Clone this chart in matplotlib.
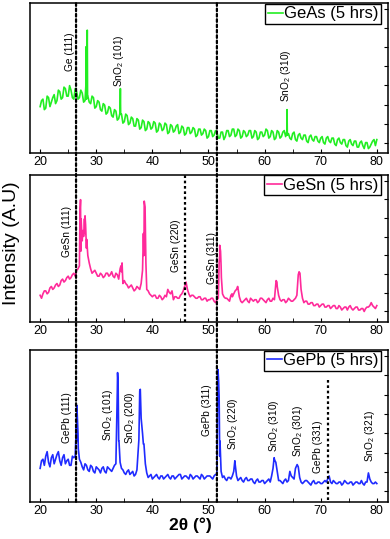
import numpy as np
import matplotlib
matplotlib.use("Agg")
import matplotlib.pyplot as plt
from matplotlib.patches import ConnectionPatch

plt.rcParams["font.family"] = ["Liberation Sans", "DejaVu Sans"]
plt.rcParams["mathtext.fontset"] = "custom"
plt.rcParams["mathtext.rm"] = "Liberation Sans"
plt.rcParams["mathtext.it"] = "Liberation Sans"

# 2theta grids of the background (deg): whole/half degrees and the quarter points between
two_theta = np.arange(20, 80.01, 0.5)
two_theta_mid = np.arange(20.25, 79.8, 0.5)

geas_base = [31, 36, 30, 37, 34, 39, 35, 41, 37, 43, 38, 42, 36, 41, 37, 40, 35, 38, 33, 37,
             31, 34, 28, 32, 27, 30, 24, 28, 23, 26, 21, 25, 20, 23, 18, 22, 17, 21, 16, 20,
             17, 20, 15, 19, 16, 19, 14, 18, 15, 19, 14, 17, 13, 17, 14, 16, 12, 16, 13, 15,
             11, 15, 12, 14, 10, 14, 11, 15, 12, 16, 12, 15, 11, 14, 12, 15, 11, 14, 10, 14,
             12, 15, 11, 14, 10, 14, 11, 15, 12, 10, 13, 9, 12, 10, 12, 8, 11, 9, 11, 8,
             10, 7, 10, 8, 10, 6, 9, 7, 9, 5, 8, 6, 8, 4, 7, 5, 7, 3, 6, 9, 9]
geas_mid = [35, 29, 38, 31, 37, 33, 42, 36, 44, 38,
            45, 37, 43, 36, 42, 34, 36, 34, 38, 30,
            35, 29, 33, 26, 31, 25, 29, 22, 27, 20,
            26, 19, 24, 18, 23, 16, 22, 15, 21, 16,
            21, 14, 20, 15, 20, 13, 19, 14, 18, 13,
            18, 12, 17, 13, 17, 11, 16, 12, 16, 10,
            15, 11, 15, 10, 14, 9, 15, 11, 16, 11,
            16, 10, 15, 11, 15, 10, 15, 9, 14, 11,
            16, 10, 15, 9, 15, 10, 14, 11, 13, 9,
            14, 8, 13, 9, 12, 7, 12, 8, 11, 7,
            11, 6, 11, 7, 10, 5, 10, 6, 9, 4,
            9, 5, 8, 4, 8, 3, 7, 4, 8, 5]
geas_peak_x = [28.15, 28.2, 28.25, 28.35, 28.4, 28.45, 34.25, 34.3, 34.35, 63.95, 64.0, 64.05]
geas_peak_y = [45, 71, 40, 60, 82, 38, 30, 43, 26, 14, 29, 12]

gesn_base = [18, 19, 21, 20, 24, 23, 26, 25, 29, 28, 31, 30, 33, 35, 38, 55, 60, 45, 36, 34,
             33, 31, 32, 31, 33, 32, 31, 33, 29, 34, 28, 25, 24, 23, 22, 23, 26, 45, 22, 19,
             17, 18, 16, 17, 16, 17, 20, 21, 17, 16, 18, 21, 26, 19, 18, 17, 16, 17, 15, 16,
             15, 16, 14, 15, 45, 19, 16, 15, 18, 19, 22, 17, 13, 15, 14, 16, 14, 15, 14, 16,
             14, 15, 14, 16, 26, 18, 14, 15, 14, 15, 14, 16, 32, 22, 13, 14, 12, 13, 11, 12,
             11, 12, 10, 11, 10, 11, 9, 10, 9, 10, 10, 9, 9, 10, 8, 9, 9, 10, 13, 10, 11]
gesn_mid = [16, 21, 19, 23, 22, 25, 24, 28, 27, 30,
            29, 32, 31, 36, 48, 58, 50, 40, 33, 35,
            31, 33, 30, 33, 31, 34, 30, 32, 36, 26,
            26, 23, 25, 21, 24, 22, 35, 65, 21, 18,
            18, 16, 18, 15, 18, 22, 19, 15, 17, 16,
            19, 24, 22, 17, 18, 16, 17, 15, 16, 14,
            15, 16, 13, 16, 38, 17, 16, 14, 17, 21,
            23, 14, 14, 16, 13, 15, 15, 13, 16, 15,
            13, 16, 14, 15, 24, 15, 15, 13, 16, 14,
            15, 18, 33, 16, 14, 12, 13, 11, 12, 10,
            12, 10, 11, 9, 11, 9, 11, 8, 10, 8,
            11, 8, 10, 8, 9, 7, 10, 11, 11, 9]
gesn_peak_x = [27.1, 27.2, 27.3, 27.6, 27.9, 28.0, 28.1, 28.3, 34.4, 34.6, 38.4, 38.55, 38.7,
               38.85, 46.0, 51.9, 52.0, 52.15, 52.3, 54.2, 55.2, 62.05, 62.2, 66.15, 66.3]
gesn_peak_y = [75, 83, 70, 62, 70, 72, 66, 56, 38, 40, 60, 82, 78, 40, 27, 40, 52, 48, 30,
               19, 24, 28, 27, 34, 33]

gepb_base = [22, 28, 30, 26, 29, 25, 31, 27, 29, 25, 28, 24, 29, 40, 28, 23, 25, 21, 24, 20,
             23, 21, 22, 20, 23, 21, 22, 25, 40, 22, 19, 20, 18, 20, 18, 35, 55, 38, 19, 17,
             15, 17, 16, 17, 15, 17, 16, 17, 15, 17, 18, 16, 17, 15, 17, 16, 17, 15, 17, 16,
             17, 16, 17, 18, 30, 16, 15, 16, 15, 20, 17, 15, 14, 15, 14, 15, 13, 14, 13, 14,
             12, 14, 13, 22, 26, 14, 13, 14, 13, 20, 16, 22, 23, 13, 13, 14, 12, 13, 12, 13,
             12, 13, 13, 17, 12, 13, 12, 13, 12, 13, 12, 13, 12, 13, 12, 12, 13, 19, 13, 12, 12]
gepb_mid = [27, 24, 33, 23, 31, 28, 33, 24, 31, 27,
            24, 30, 30, 45, 26, 21, 24, 20, 23, 19,
            22, 19, 23, 19, 22, 20, 24, 72, 26, 21,
            18, 21, 19, 17, 21, 73, 45, 25, 16, 18,
            16, 18, 15, 17, 16, 18, 15, 17, 16, 18,
            15, 17, 16, 18, 15, 17, 16, 18, 15, 17,
            17, 15, 18, 83, 20, 17, 14, 16, 17, 25,
            14, 16, 13, 16, 14, 15, 12, 15, 13, 14,
            13, 15, 17, 28, 20, 14, 12, 15, 14, 17,
            15, 24, 16, 12, 14, 13, 11, 14, 12, 13,
            12, 14, 15, 13, 14, 12, 13, 11, 14, 12,
            13, 11, 13, 12, 14, 11, 13, 15, 12, 13]
gepb_peak_x = [26.45, 26.55, 26.65, 26.8, 33.7, 33.8, 33.9, 34.05, 37.6, 37.75, 37.85, 38.0,
               38.2, 38.4, 51.6, 51.7, 51.8, 51.9, 52.05, 54.7, 61.7, 61.85, 65.8]
gepb_peak_y = [50, 63.5, 55, 35, 60, 85, 78, 40, 41, 73, 74, 55, 47, 38, 60, 87, 80, 69, 40,
               27, 29, 27, 24.5]

# peak labels: (text, 2theta, y of label bottom)
geas_labels = [("Ge (111)", 25.3, 55), ("SnO$_2$ (101)", 34.1, 44), ("SnO$_2$ (310)", 63.8, 34)]
gesn_labels = [("GeSn (111)", 24.75, 44), ("GeSn (220)", 44.2, 34), ("GeSn (311)", 50.6, 26)]
gepb_labels = [("GePb (111)", 24.75, 39), ("SnO$_2$ (101)", 32.05, 40), ("SnO$_2$ (200)", 36.0, 38),
               ("GePb (311)", 49.7, 43), ("SnO$_2$ (220)", 54.4, 34), ("SnO$_2$ (310)", 61.7, 33),
               ("SnO$_2$ (301)", 65.9, 29.5), ("GePb (331)", 69.5, 19), ("SnO$_2$ (321)", 78.75, 26)]

common_lines = [26.4, 51.5]
gesn_line = 45.8
gepb_line, gepb_line_top = 71.3, 80

panels = [
    ("GeAs (5 hrs)", "#22ee22", geas_base, geas_mid, geas_peak_x, geas_peak_y, geas_labels),
    ("GeSn (5 hrs)", "#ff2a9a", gesn_base, gesn_mid, gesn_peak_x, gesn_peak_y, gesn_labels),
    ("GePb (5 hrs)", "#1f2bff", gepb_base, gepb_mid, gepb_peak_x, gepb_peak_y, gepb_labels),
]
rects = [[0.077, 0.716, 0.918, 0.278],
         [0.077, 0.403, 0.918, 0.273],
         [0.077, 0.069, 0.918, 0.282]]

fig = plt.figure(figsize=(3.9, 5.39), dpi=100)
axes = []
for rect, (name, color, base, mid, px, py, labels) in zip(rects, panels):
    ax = fig.add_axes(rect)
    x = np.concatenate([two_theta, two_theta_mid, px])
    y = np.concatenate([np.array(base, float), np.array(mid, float), py])
    order = np.argsort(x, kind="stable")
    ax.plot(x[order], y[order], color=color, lw=1.2, label=name)
    for txt, xt, yt in labels:
        ax.text(xt, yt, txt, rotation=90, ha="center", va="bottom", fontsize=7.3)
    ax.set_xlim(18.2, 82)
    ax.set_ylim(0, 100)
    ax.set_xticks(range(20, 81, 10))
    ax.set_xticks(range(25, 80, 10), minor=True)
    ax.set_yticks(np.arange(7, 100, 12.7))
    ax.tick_params(axis="x", which="both", direction="in", labelsize=9, length=3, pad=2)
    ax.tick_params(axis="y", which="both", direction="in", left=False, right=True,
                   labelleft=False, length=3)
    for s in ax.spines.values():
        s.set_linewidth(1.1)
    leg = ax.legend(loc="upper right", bbox_to_anchor=(0.981, 0.995), fontsize=12,
                    handlelength=0.9, handletextpad=0.1, borderpad=0.15, borderaxespad=0,
                    fancybox=False, framealpha=1)
    leg.get_frame().set_edgecolor("black")
    leg.get_frame().set_linewidth(1.0)
    axes.append(ax)

ax1, ax2, ax3 = axes
for xl in common_lines:
    con = ConnectionPatch(xyA=(xl, 100), coordsA=ax1.transData, xyB=(xl, 0), coordsB=ax3.transData,
                          linestyle=(0, (1.2, 1.2)), lw=1.6, color="black", zorder=5)
    fig.add_artist(con)
ax2.axvline(gesn_line, color="black", linestyle=(0, (1.2, 1.2)), lw=1.6)
ax3.plot([gepb_line, gepb_line], [gepb_line_top, 0], color="black", linestyle=(0, (1.2, 1.2)), lw=1.6)

fig.text(0.03, 0.549, "Intensity (A.U)", rotation=90, ha="center", va="center", fontsize=14)
fig.text(0.487, 0.026, "2θ (°)", ha="center", va="center", fontsize=12.5, fontweight="bold")

fig.savefig("out.png", dpi=100)
